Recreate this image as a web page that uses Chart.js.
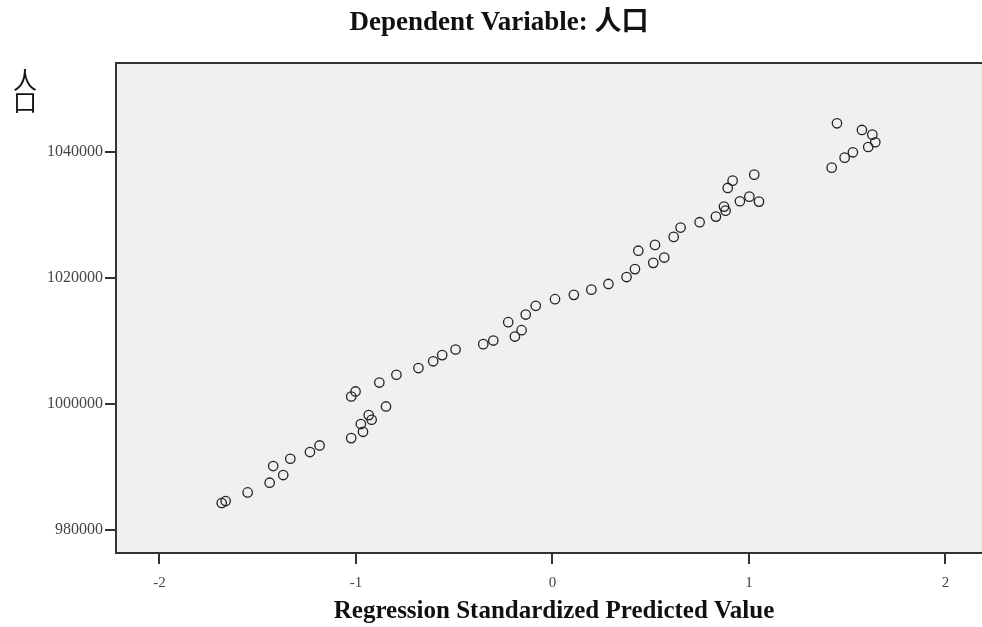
<!DOCTYPE html>
<html>
<head>
<meta charset="utf-8">
<script src="https://cdn.jsdelivr.net/npm/chart.js@4.4.1/dist/chart.umd.min.js"></script>
<style>
    html, body { margin: 0; padding: 0; background: #ffffff; overflow: hidden; }
    #wrap { width: 982px; height: 627px; }
</style>
</head>
<body>
<div id="wrap"><canvas id="scatterChart" width="982" height="627"></canvas></div>
<script>
// Giá trị dự đoán chuẩn hóa (trục X) và dân số (trục Y)
const predicted = [
    -1.683, -1.663, -1.551, -1.439, -1.421, -1.370, -1.334, -1.234, -1.185, -1.024,
    -1.024, -1.002, -0.964, -0.975, -0.935, -0.920, -0.881, -0.847, -0.794, -0.682,
    -0.607, -0.561, -0.493, -0.352, -0.301, -0.225, -0.191, -0.157, -0.136, -0.085,
    0.013, 0.109, 0.198, 0.285, 0.377, 0.420, 0.437, 0.513, 0.522, 0.569,
    0.617, 0.652, 0.749, 0.832, 0.873, 0.881, 0.892, 0.917, 0.954, 1.002,
    1.051, 1.027, 1.421, 1.448, 1.487, 1.529, 1.575, 1.607, 1.628, 1.643
];
const population = [
    984240, 984550, 985920, 987460, 990100, 988680, 991260, 992320, 993370, 994540,
    1001140, 1001940, 995540, 996770, 998190, 997450, 1003360, 999560, 1004590, 1005660,
    1006730, 1007710, 1008600, 1009450, 1010020, 1012940, 1010660, 1011670, 1014150, 1015530,
    1016590, 1017270, 1018100, 1019000, 1020100, 1021360, 1024280, 1022350, 1025200, 1023190,
    1026470, 1027950, 1028800, 1029690, 1031280, 1030640, 1034240, 1035400, 1032130, 1032860,
    1032070, 1036350, 1037460, 1044500, 1039050, 1039900, 1043440, 1040740, 1042700, 1041490
];
const xTicks = [-2, -1, 0, 1, 2];
const yTicks = [980000, 1000000, 1020000, 1040000];

const chartTitle = 'Dependent Variable: 人口';
const xTitle = 'Regression Standardized Predicted Value';
const yTitle = '人口';

const serif = '"Liberation Serif", "Noto Sans CJK TC", serif';

// Nền xám, viền trên của vùng vẽ và các tiêu đề
const plotFrame = {
    id: 'plotFrame',
    beforeDraw(chart) {
        const { ctx, chartArea: a } = chart;
        ctx.save();
        ctx.fillStyle = '#f0f0f0';
        ctx.fillRect(a.left, a.top, a.right - a.left, a.bottom - a.top);
        ctx.restore();
    },
    afterDraw(chart) {
        const { ctx, chartArea: a } = chart;
        ctx.save();
        ctx.strokeStyle = '#333333';
        ctx.lineWidth = 2;
        ctx.beginPath();
        ctx.moveTo(a.left - 1, a.top);
        ctx.lineTo(chart.width, a.top);
        ctx.stroke();

        ctx.fillStyle = '#111111';
        ctx.textAlign = 'center';
        ctx.textBaseline = 'alphabetic';
        ctx.font = 'bold 27px ' + serif;
        ctx.fillText(chartTitle, 499, 30);
        ctx.font = 'bold 25px ' + serif;
        ctx.fillText(xTitle, 554, 618);

        // Tiêu đề trục Y viết dọc
        ctx.font = '24px "Noto Sans CJK TC", "Noto Sans CJK SC", sans-serif';
        ctx.textBaseline = 'middle';
        [...yTitle].forEach((ch, i) => ctx.fillText(ch, 25, 80 + i * 22));
        ctx.restore();
    }
};

const points = predicted.map((x, i) => ({ x: x, y: population[i] }));

new Chart(document.getElementById('scatterChart'), {
    type: 'scatter',
    data: {
        datasets: [{
            label: '人口',
            data: points,
            pointStyle: 'circle',
            pointRadius: 4.7,
            pointBorderWidth: 1.3,
            pointBorderColor: '#222222',
            pointBackgroundColor: 'rgba(0,0,0,0)'
        }]
    },
    options: {
        responsive: false,
        animation: false,
        layout: { autoPadding: false, padding: { left: 0, right: 0, top: 63, bottom: 0 } },
        plugins: {
            legend: { display: false },
            tooltip: { enabled: false },
            title: { display: false }
        },
        scales: {
            x: {
                type: 'linear',
                min: -2.221,
                max: 2.186,
                afterBuildTicks: s => { s.ticks = xTicks.map(v => ({ value: v })); },
                afterFit: s => { s.height = 74; },
                border: { display: true, color: '#333333', width: 2 },
                grid: { drawOnChartArea: false, drawTicks: true, tickLength: 11, color: '#333333', lineWidth: 2 },
                ticks: {
                    color: '#444444',
                    padding: 10,
                    font: { family: serif, size: 15 },
                    callback: v => String(v)
                }
            },
            y: {
                type: 'linear',
                min: 976306,
                max: 1054068,
                afterBuildTicks: s => { s.ticks = yTicks.map(v => ({ value: v })); },
                afterFit: s => { s.width = 116; },
                border: { display: true, color: '#333333', width: 2 },
                grid: { drawOnChartArea: false, drawTicks: true, tickLength: 11, color: '#333333', lineWidth: 2 },
                ticks: {
                    color: '#444444',
                    padding: 2,
                    font: { family: serif, size: 16 },
                    callback: v => String(v)
                }
            }
        }
    },
    plugins: [plotFrame]
});
</script>
</body>
</html>
